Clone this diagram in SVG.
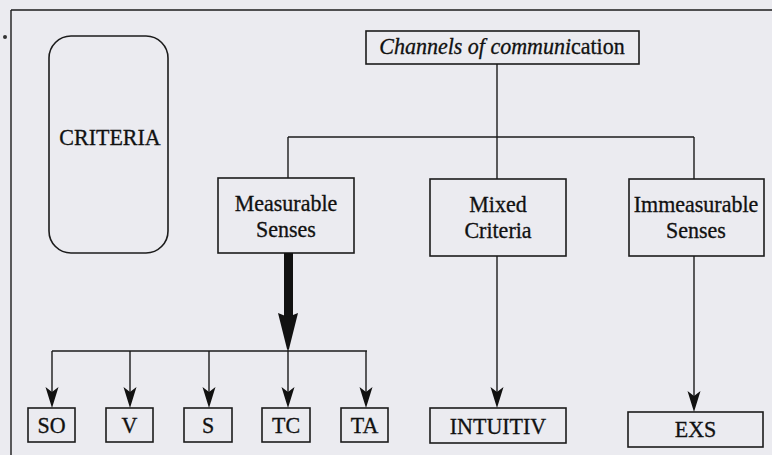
<svg xmlns="http://www.w3.org/2000/svg" width="772" height="455" viewBox="0 0 772 455">
<style>
.bx{fill:none;stroke:#1c1c1c;stroke-width:1.6}
.ln{fill:none;stroke:#1c1c1c;stroke-width:1.4}
.t{font-family:"Liberation Serif","Times New Roman",serif;font-size:22px;fill:#111;stroke:#111;stroke-width:0.3;text-anchor:middle}
.ah{fill:#111}
</style>
<rect width="772" height="455" fill="#ebebf0"/>
<g id="frame">
<path class="ln" d="M11,10 H772 M11,10 V455"/>
<circle cx="5" cy="37" r="2" fill="#333"/>
</g>
<g id="criteria">
<rect class="bx" x="49" y="36" width="119" height="217" rx="22"/>
<text class="t" transform="translate(110,145) scale(1,1.08)">CRITERIA</text>
</g>
<g id="channels">
<rect class="bx" x="366" y="31" width="273" height="33"/>
<text class="t" transform="translate(502,54) scale(1,1.08)"><tspan font-style="italic">Channels of communi</tspan>cation</text>
</g>
<g id="measurable">
<rect class="bx" x="218" y="178" width="136" height="75"/>
<text class="t" transform="translate(286,211) scale(1,1.08)">Measurable</text>
<text class="t" transform="translate(286,237) scale(1,1.08)">Senses</text>
</g>
<g id="mixed">
<rect class="bx" x="430" y="179" width="136" height="77"/>
<text class="t" transform="translate(498,212) scale(1,1.08)">Mixed</text>
<text class="t" transform="translate(498,238) scale(1,1.08)">Criteria</text>
</g>
<g id="immeasurable">
<rect class="bx" x="629" y="179" width="135" height="77"/>
<text class="t" transform="translate(696,212) scale(1,1.08)">Immeasurable</text>
<text class="t" transform="translate(696,238) scale(1,1.08)">Senses</text>
</g>
<g id="so"><rect class="bx" x="28" y="408" width="47" height="34"/><text class="t" transform="translate(51.5,433) scale(1,1.08)">SO</text></g>
<g id="v"><rect class="bx" x="106" y="408" width="47" height="34"/><text class="t" transform="translate(129.5,433) scale(1,1.08)">V</text></g>
<g id="s"><rect class="bx" x="184" y="408" width="48" height="34"/><text class="t" transform="translate(208,433) scale(1,1.08)">S</text></g>
<g id="tc"><rect class="bx" x="262" y="408" width="48" height="34"/><text class="t" transform="translate(286,433) scale(1,1.08)">TC</text></g>
<g id="ta"><rect class="bx" x="341" y="408" width="47" height="34"/><text class="t" transform="translate(364.5,433) scale(1,1.08)">TA</text></g>
<g id="intuitiv"><rect class="bx" x="430" y="408" width="136" height="35"/><text class="t" transform="translate(498,434) scale(1,1.08)">INTUITIV</text></g>
<g id="exs"><rect class="bx" x="628" y="412" width="135" height="35"/><text class="t" transform="translate(695.5,437) scale(1,1.08)">EXS</text></g>
<g id="connectors">
<path class="ln" d="M497,64 V137 M288,137 H694 M288,137 V178 M497,137 V179 M694,137 V179"/>
<rect x="284" y="253" width="9" height="64" fill="#111"/>
<path class="ah" d="M278,313 L288,317 L298,313 L289,349 L287,349 Z"/>
<path class="ln" d="M52,351 H367 M52,351 V400 M130,351 V400 M209,351 V400 M288,349 V400 M366,351 V400"/>
<path class="ah" d="M45.5,387 L52,392 L58.5,387 L52,408 Z"/>
<path class="ah" d="M123.5,387 L130,392 L136.5,387 L130,408 Z"/>
<path class="ah" d="M202.5,387 L209,392 L215.5,387 L209,408 Z"/>
<path class="ah" d="M281.5,387 L288,392 L294.5,387 L288,408 Z"/>
<path class="ah" d="M359.5,387 L366,392 L372.5,387 L366,408 Z"/>
<path class="ln" d="M497,256 V400 M694,256 V404"/>
<path class="ah" d="M490.5,387 L497,392 L503.5,387 L497,408 Z"/>
<path class="ah" d="M687.5,391 L694,396 L700.5,391 L694,412 Z"/>
</g>
</svg>
